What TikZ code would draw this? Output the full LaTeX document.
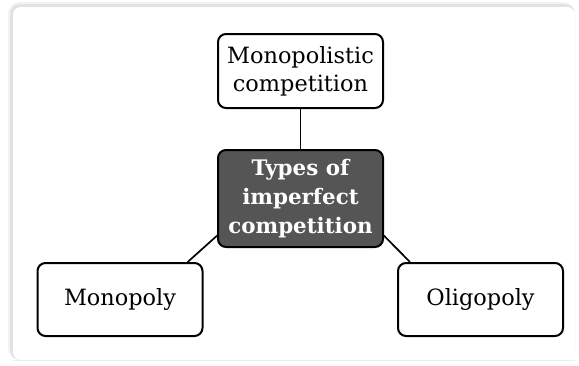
\documentclass[tikz,border=0pt]{standalone}
\usepackage{fontspec}
\setmainfont{DejaVu Serif}
\usepackage{xcolor}
\usepackage{tikz}
\usetikzlibrary{positioning}
\definecolor{cdark}{RGB}{85, 85, 85}
\definecolor{cshadowa}{RGB}{243, 243, 243}
\definecolor{cshadowb}{RGB}{226, 226, 226}
\definecolor{cedge}{RGB}{236, 236, 236}

\tikzset{
  kindbox/.style={draw=black, line width=1pt, rounded corners=4pt, fill=white,
    align=center, inner sep=0pt, minimum width=82.5pt,
    font=\fontsize{11.2}{14}\selectfont},
  corebox/.style={kindbox, fill=cdark, text=white, minimum height=48.5pt,
    font=\fontsize{10.7}{14.5}\selectfont\bfseries},
  link/.style={line width=0.85pt}
}

\begin{document}
\begin{tikzpicture}[x=0.5pt, y=-0.5pt]
  \useasboundingbox (0,0) rectangle (579,365);
  \fill[cshadowa, rounded corners=6pt] (8,2) rectangle (575,360);
  \fill[cshadowb, rounded corners=5pt] (10,4) rectangle (575,360);
  \fill[white, rounded corners=4pt] (13,7) rectangle (575,360);
  \draw[cedge] (13,360.5) -- (575,360.5);

  \node[kindbox, minimum height=37pt] (mcomp) at (300.5, 71) {Monopolistic\\competition};
  \node[corebox] (types) at (300.5, 198.5) {Types of\\imperfect\\competition};
  \node[kindbox, minimum height=36.5pt] (mono) at (120, 299.5) {Monopoly};
  \node[kindbox, minimum height=36.5pt] (oligo) at (480.5, 299.5) {Oligopoly};

  \draw[link] (mcomp.south) -- (types.north);
  \draw[link] (types.204) -- (mono.29);
  \draw[link] (types.336) -- (oligo.152);
\end{tikzpicture}
\end{document}
